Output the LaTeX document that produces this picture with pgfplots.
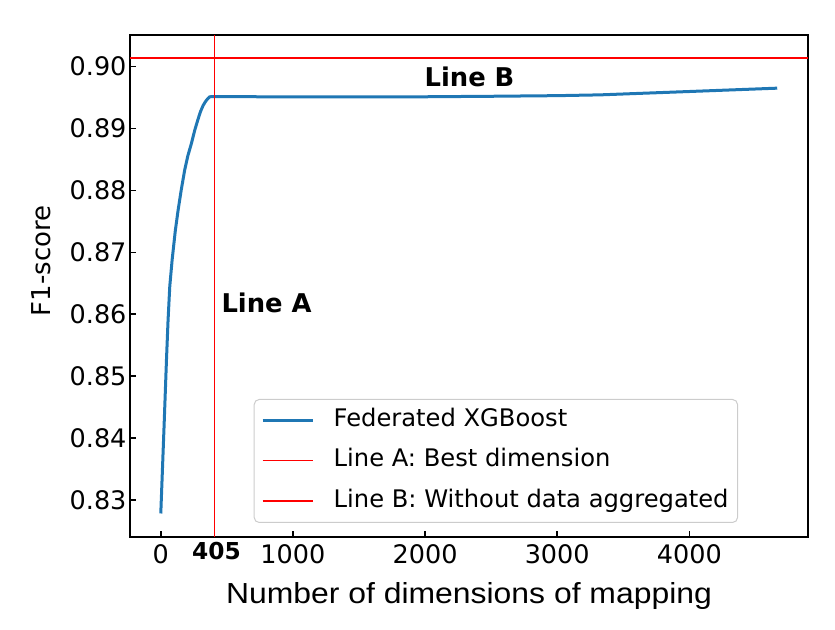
\documentclass[border=0pt]{standalone}
\usepackage{fontspec}
\setmainfont{DejaVu Sans}
\newfontfamily\labfont[FakeStretch=1.1]{Liberation Sans}
\usepackage{pgfplots}
\pgfplotsset{compat=1.18}
\definecolor{mplblue}{HTML}{1F77B4}
\begin{document}
\begin{tikzpicture}[x=1pt,y=1pt]
\useasboundingbox (0,0) rectangle (835,629);
\begin{axis}[
  at={(130pt,92pt)}, anchor=south west,
  scale only axis, width=678pt, height=502pt,
  xmin=-233, xmax=4898, ymin=0.8240, ymax=0.9051,
  clip=false,
  axis line style={line width=1.8pt},
  xtick={0,1000,2000,3000,4000},
  ytick={0.83,0.84,0.85,0.86,0.87,0.88,0.89,0.90},
  tick align=inside, xtick pos=bottom, ytick pos=left,
  major tick length=6pt,
  tick style={line width=1.5pt, black},
  /pgf/number format/assume math mode=true,
  xticklabel style={font=\fontsize{25.5}{30}\selectfont, yshift=-4.5pt},
  yticklabel style={font=\fontsize{25.5}{30}\selectfont,
     /pgf/number format/.cd, fixed, fixed zerofill, precision=2},
  scaled y ticks=false,
  xticklabel={\pgfmathprintnumber[assume math mode=true,1000 sep={}]{\tick}},
  xlabel={Number of dimensions of mapping},
  ylabel={F1-score},
  xlabel style={font=\labfont\fontsize{29}{34}\selectfont, at={(axis description cs:0.5,-0.1321)}, anchor=base},
  ylabel style={font=\fontsize{26}{31}\selectfont, at={(axis description cs:-0.1313,0.5498)}, anchor=center},
  legend cell align=left,
  legend style={at={(axis description cs:0.8968,0.0279)}, anchor=south east,
    font=\fontsize{24.2}{29}\selectfont, draw=black!20, line width=1pt,
    rounded corners=5pt, fill=white, fill opacity=0.8, text opacity=1, draw opacity=1,
    inner xsep=7pt, inner ysep=7pt, row sep=12.5pt,
    nodes={inner sep=2pt, text height=18pt, text depth=6pt}},
  legend image code/.code={\path[draw=none,fill=none] (0pt,0pt) -- (69pt,0pt); \draw[#1] (0pt,0pt) -- (50pt,0pt);},
]
\addplot[mplblue, line width=3pt] coordinates {
(0,0.8278) (25,0.8420) (43,0.8526) (55,0.8590) (68,0.8645) (86,0.8688)
(110,0.8735) (131,0.8768) (155,0.8801) (181,0.8833) (205,0.8856) (232,0.8876)
(258,0.8898) (282,0.8915) (300,0.8927) (320,0.8937) (340,0.8944) (355,0.8948)
(370,0.8951) (385,0.89515) (405,0.89515) (1000,0.89510) (2000,0.89512) (2500,0.89520)
(3000,0.89530) (3328,0.89543) (3700,0.89573) (4000,0.89597) (4665,0.89651)
};
\addlegendentry{Federated XGBoost}
\addplot[red, line width=1pt] coordinates {(405,0.8240) (405,0.9051)};
\addlegendentry{Line A: Best dimension}
\addplot[red, line width=2pt] coordinates {(-233,0.9014) (4898,0.9014)};
\addlegendentry{Line B: Without data aggregated}
\node[anchor=base west, font=\bfseries\fontsize{25.8}{30}\selectfont, inner sep=0pt] at (axis cs:458,0.8602) {Line A};
\node[anchor=base west, font=\bfseries\fontsize{25.8}{30}\selectfont, inner sep=0pt] at (axis cs:1995,0.8968) {Line B};
\node[anchor=center, font=\bfseries\fontsize{23.3}{28}\selectfont, inner sep=0pt] at (axis cs:421,0.82176) {405};
\end{axis}
\end{tikzpicture}
\end{document}
